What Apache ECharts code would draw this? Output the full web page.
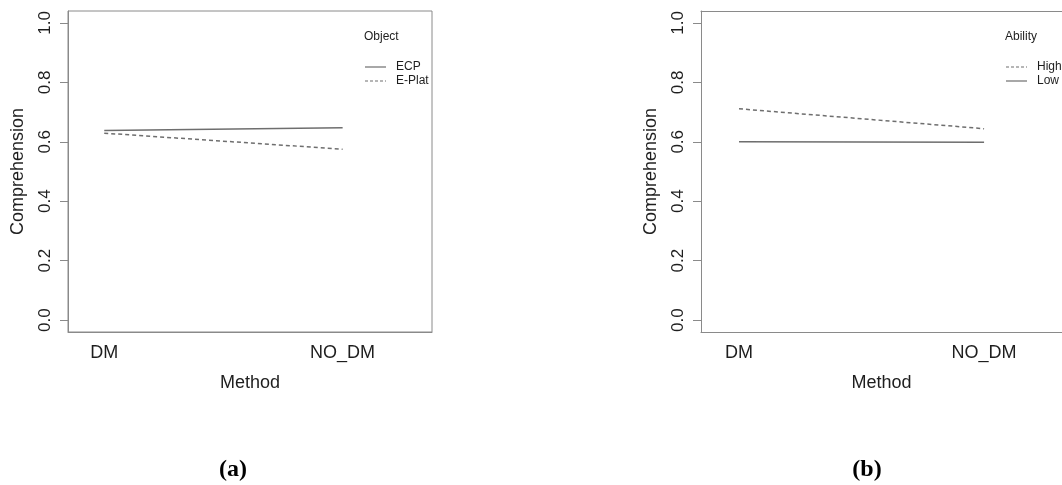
<!DOCTYPE html>
<html>
<head>
<meta charset="utf-8">
<script src="https://cdn.jsdelivr.net/npm/echarts@6/dist/echarts.min.js"></script>
<style>
html,body{margin:0;padding:0;background:#fff;}
#c{width:1062px;height:485px;}
</style>
</head>
<body>
<div id="c"></div>
<script>
// ---- data ----
const methods = ['DM', 'NO_DM'];
const ecp = [0.638, 0.647];
const ePlat = [0.629, 0.575];
const high = [0.711, 0.644];
const low = [0.600, 0.598];
const yTicks = [0, 0.2, 0.4, 0.6, 0.8, 1.0];
const xTicks = [1, 2];
const legendTitles = ['Object', 'Ability'];
const legendNames = [['ECP', 'E-Plat'], ['High', 'Low']];
const legendDashed = [[false, true], [true, false]];
const captions = ['(a)', '(b)'];

const FONT = '"Liberation Sans", Arial, sans-serif';
const TXT = '#1e1e1e';
const BOX = '#8a8a8a';
const LINE = '#6e6e6e';
const DASH = [4, 3];

function pts(vals) { return methods.map((m, i) => [i + 1, vals[i]]); }

const grids = [
  { left: 68, top: 11, width: 364, height: 321 },
  { left: 701, top: 11, right: 0, height: 321 }
];
const xRanges = [[0.848, 2.375], [0.845, 2.318]];

function xAxis(i) {
  return {
    type: 'value', gridIndex: i, min: xRanges[i][0], max: xRanges[i][1],
    axisLine: { show: true, onZero: false, lineStyle: { color: BOX, width: 1 } },
    axisTick: { show: false },
    splitLine: { show: false },
    axisLabel: {
      customValues: xTicks, margin: 12,
      formatter: v => methods[Math.round(v) - 1] || '',
      fontFamily: FONT, fontSize: 18, color: TXT
    },
    name: 'Method', nameLocation: 'middle', nameGap: 42,
    nameTextStyle: { fontFamily: FONT, fontSize: 18, color: TXT }
  };
}
function xTopAxis(i) {
  return {
    type: 'value', gridIndex: i, position: 'top', min: xRanges[i][0], max: xRanges[i][1],
    axisLine: { show: true, onZero: false, lineStyle: { color: BOX, width: 1 } },
    axisTick: { show: false }, axisLabel: { show: false }, splitLine: { show: false }
  };
}
function yAxis(i) {
  return {
    type: 'value', gridIndex: i, min: -0.04, max: 1.04,
    axisLine: { show: true, lineStyle: { color: BOX, width: 1 } },
    axisTick: { show: true, customValues: yTicks, length: 8, lineStyle: { color: BOX } },
    splitLine: { show: false },
    axisLabel: {
      customValues: yTicks, rotate: 90, margin: 14,
      formatter: v => v.toFixed(1),
      fontFamily: FONT, fontSize: 17, color: TXT
    },
    name: 'Comprehension', nameLocation: 'middle', nameGap: 41, nameRotate: 90,
    nameTextStyle: { fontFamily: FONT, fontSize: 18, color: TXT }
  };
}
function ser(name, vals, idx, dashed) {
  return {
    name: name, type: 'line', xAxisIndex: idx, yAxisIndex: idx,
    data: pts(vals), symbol: 'none', showSymbol: false, silent: true,
    lineStyle: { color: LINE, width: 1.5, type: dashed ? DASH : 'solid' }
  };
}

// legend drawn as graphic elements
const legendPos = [{ x: 365, tx: 396 }, { x: 1006, tx: 1037 }];
const graphics = [];
legendPos.forEach((p, k) => {
  graphics.push({ type: 'text', x: p.x - 1, y: 37, style: { text: legendTitles[k], font: '12px ' + FONT, fill: TXT, verticalAlign: 'middle' } });
  legendNames[k].forEach((nm, j) => {
    const y = 67 + j * 14;
    graphics.push({ type: 'line', shape: { x1: p.x, y1: y, x2: p.x + 21, y2: y },
      style: { stroke: LINE, lineWidth: 1.2, lineDash: legendDashed[k][j] ? [3, 2] : null } });
    graphics.push({ type: 'text', x: p.tx, y: y, style: { text: nm, font: '12px ' + FONT, fill: TXT, verticalAlign: 'middle' } });
  });
});
graphics.push({ type: 'text', x: 233, y: 470, style: { text: captions[0], font: 'bold 24px "Liberation Serif", "Times New Roman", serif', fill: '#000', align: 'center', verticalAlign: 'middle' } });
graphics.push({ type: 'text', x: 867, y: 470, style: { text: captions[1], font: 'bold 24px "Liberation Serif", "Times New Roman", serif', fill: '#000', align: 'center', verticalAlign: 'middle' } });

const chart = echarts.init(document.getElementById('c'), null, { renderer: 'canvas' });
chart.setOption({
  animation: false,
  backgroundColor: '#fff',
  grid: [
    Object.assign({ show: true, borderColor: BOX, borderWidth: 1, backgroundColor: 'transparent' }, grids[0]),
    Object.assign({ show: false }, grids[1])
  ],
  xAxis: [xAxis(0), xAxis(1), xTopAxis(1)],
  yAxis: [yAxis(0), yAxis(1)],
  graphic: graphics,
  series: [
    ser('ECP', ecp, 0, false),
    ser('E-Plat', ePlat, 0, true),
    ser('High', high, 1, true),
    ser('Low', low, 1, false)
  ]
});
</script>
</body>
</html>
